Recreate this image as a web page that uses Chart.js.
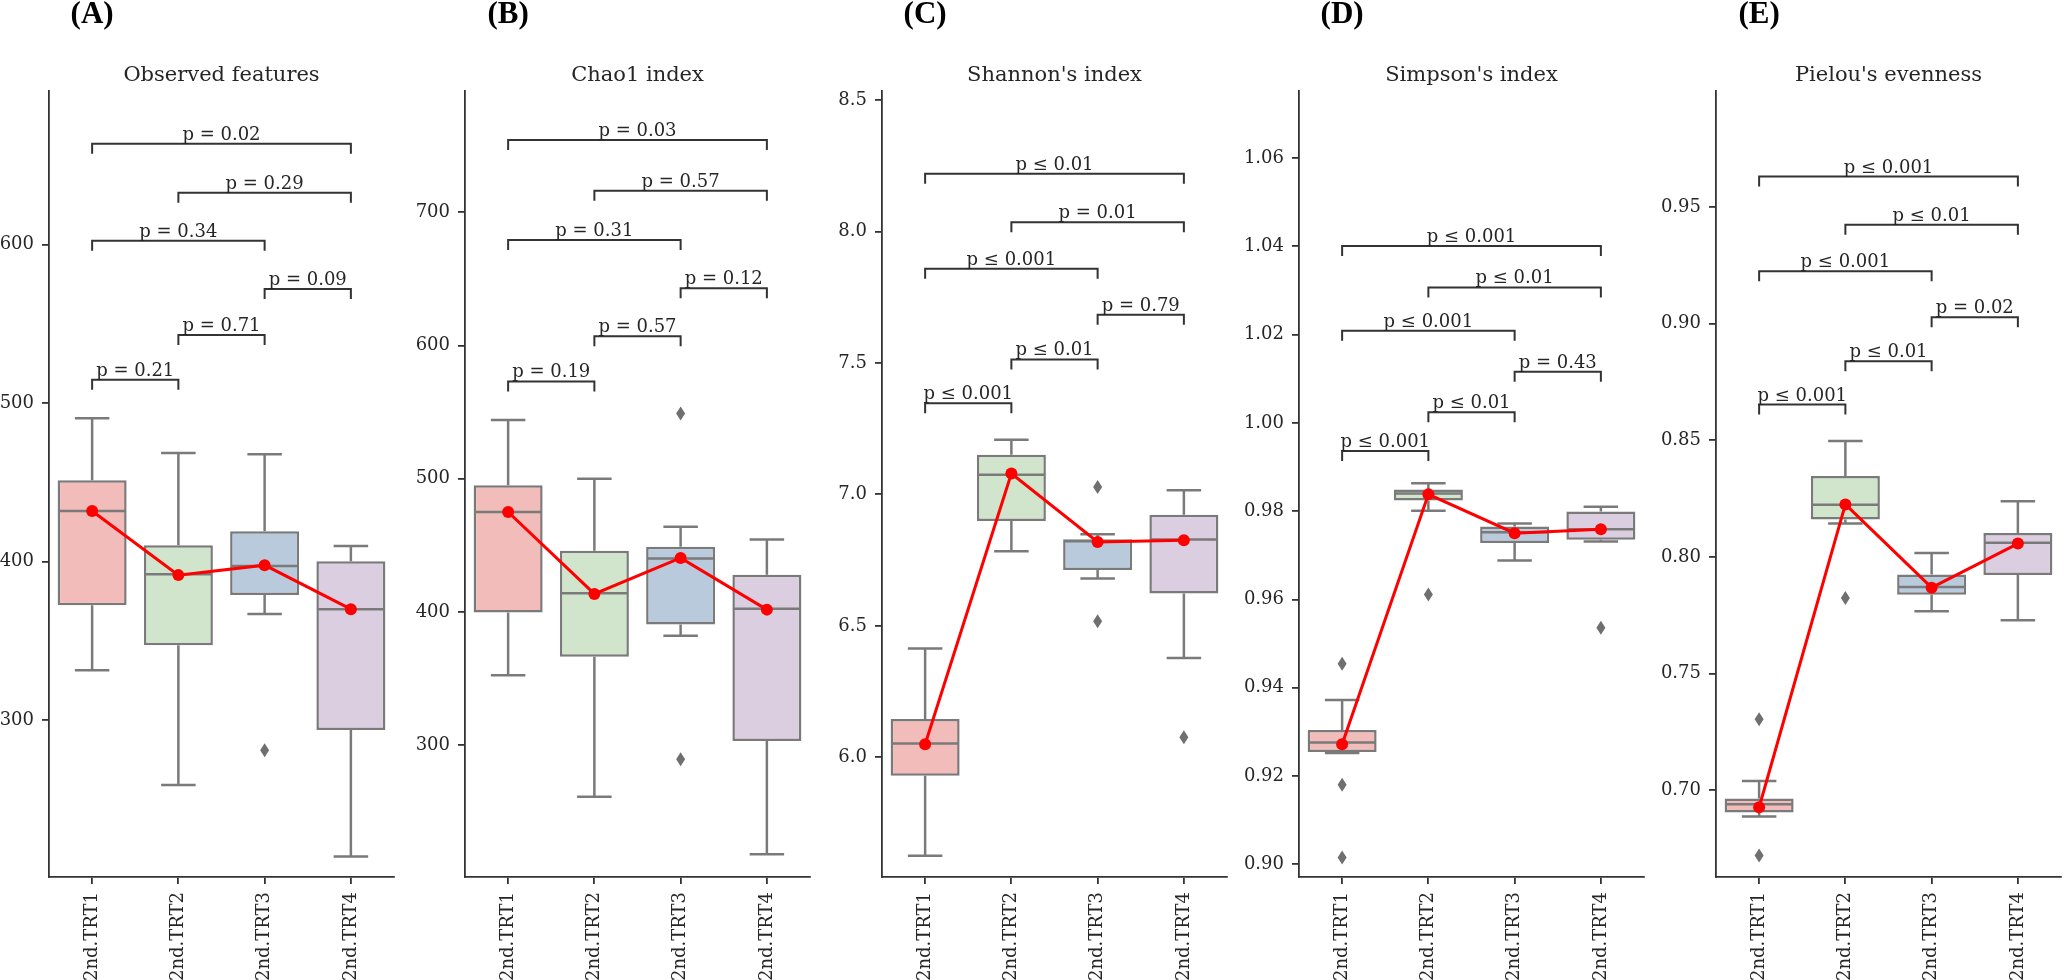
<!DOCTYPE html>
<html>
<head>
<meta charset="utf-8">
<script src="https://cdn.jsdelivr.net/npm/chart.js@4.4.1/dist/chart.umd.min.js"></script>
<style>
  html, body { margin: 0; padding: 0; background: #fff; overflow: hidden; }
  #wrap { position: relative; width: 2066px; height: 980px; }
  .panel { position: absolute; top: 0; width: 421px; height: 980px; }
</style>
</head>
<body>
<div id="wrap"></div>
<script>
const grupos = ['2nd.TRT1', '2nd.TRT2', '2nd.TRT3', '2nd.TRT4'];
// bracket pairs, top to bottom
const pares = [[0, 3], [1, 3], [0, 2], [2, 3], [1, 2], [0, 1]];

// (A) Observed features
const obsLow = [331.5, 259, 366.9, 214];
const obsQ1 = [372.5, 347.3, 378.9, 293.7];
const obsMed = [431.9, 392, 397.2, 370];
const obsQ3 = [451.4, 410.4, 419.2, 400.3];
const obsHigh = [490.5, 468.5, 467.8, 409.8];
const obsMean = [432, 391.5, 397.8, 370];
const obsOut = [[], [], [281], []];
const obsTicks = ['300', '400', '500', '600'];
const obsBracketY = [663.7, 632.8, 602.5, 572, 543, 514.8];
const obsP = ['p = 0.02', 'p = 0.29', 'p = 0.34', 'p = 0.09', 'p = 0.71', 'p = 0.21'];

// (B) Chao1 index
const chaoLow = [352.5, 261.2, 382, 218];
const chaoQ1 = [399.6, 366.3, 390.6, 303];
const chaoMed = [475, 413.9, 440.1, 402.4];
const chaoQ3 = [495, 445.9, 448.9, 427.9];
const chaoHigh = [544, 500, 463.9, 454.4];
const chaoMean = [475, 413.5, 440.5, 401.7];
const chaoOut = [[], [], [549, 289.3], []];
const chaoTicks = ['300', '400', '500', '600', '700'];
const chaoBracketY = [754.3, 716.2, 679.2, 643, 607, 573];
const chaoP = ['p = 0.03', 'p = 0.57', 'p = 0.31', 'p = 0.12', 'p = 0.57', 'p = 0.19'];

// (C) Shannon's index
const shanLow = [5.626, 6.784, 6.68, 6.378];
const shanQ1 = [5.93, 6.899, 6.712, 6.623];
const shanMed = [6.053, 7.075, 6.822, 6.828];
const shanQ3 = [6.146, 7.151, 6.829, 6.923];
const shanHigh = [6.414, 7.208, 6.848, 7.016];
const shanMean = [6.05, 7.079, 6.819, 6.826];
const shanOut = [[], [], [7.028, 6.518], [6.076]];
const shanTicks = ['6.0', '6.5', '7.0', '7.5', '8.0', '8.5'];
const shanBracketY = [8.219, 8.035, 7.858, 7.683, 7.513, 7.347];
const shanP = ['p ≤ 0.01', 'p = 0.01', 'p ≤ 0.001', 'p = 0.79', 'p ≤ 0.01', 'p ≤ 0.001'];

// (D) Simpson's index
const simpLow = [0.9252, 0.9801, 0.9688, 0.9731];
const simpQ1 = [0.9254, 0.9824, 0.9728, 0.9735];
const simpMed = [0.9276, 0.984, 0.9752, 0.9759];
const simpQ3 = [0.9304, 0.9849, 0.9765, 0.9799];
const simpHigh = [0.9372, 0.9863, 0.9772, 0.981];
const simpMean = [0.9272, 0.9838, 0.975, 0.9759];
const simpOut = [[0.9454, 0.918, 0.9015], [0.9611], [], [0.9536]];
const simpTicks = ['0.90', '0.92', '0.94', '0.96', '0.98', '1.00', '1.02', '1.04', '1.06'];
const simpBracketY = [1.0401, 1.0307, 1.0209, 1.0116, 1.0024, 0.9936];
const simpP = ['p ≤ 0.001', 'p ≤ 0.01', 'p ≤ 0.001', 'p = 0.43', 'p ≤ 0.01', 'p ≤ 0.001'];

// (E) Pielou's evenness
const pielLow = [0.6886, 0.8143, 0.7767, 0.7728];
const pielQ1 = [0.6904, 0.816, 0.7838, 0.7922];
const pielMed = [0.6939, 0.8224, 0.7871, 0.8061];
const pielQ3 = [0.6964, 0.8347, 0.7924, 0.8102];
const pielHigh = [0.7039, 0.8497, 0.8017, 0.8239];
const pielMean = [0.6926, 0.8225, 0.7868, 0.8057];
const pielOut = [[0.7304, 0.6719], [0.7824], [], []];
const pielTicks = ['0.70', '0.75', '0.80', '0.85', '0.90', '0.95'];
const pielBracketY = [0.9631, 0.9424, 0.9225, 0.9028, 0.8839, 0.8653];
const pielP = ['p ≤ 0.001', 'p ≤ 0.01', 'p ≤ 0.001', 'p = 0.02', 'p ≤ 0.01', 'p ≤ 0.001'];

const paneles = [
    { letra: '(A)', titulo: 'Observed features', low: obsLow, q1: obsQ1, med: obsMed, q3: obsQ3, high: obsHigh, media: obsMean, out: obsOut, ticks: obsTicks, min: 201, max: 697, llaves: obsBracketY, pvals: obsP },
    { letra: '(B)', titulo: 'Chao1 index', low: chaoLow, q1: chaoQ1, med: chaoMed, q3: chaoQ3, high: chaoHigh, media: chaoMean, out: chaoOut, ticks: chaoTicks, min: 201, max: 791, llaves: chaoBracketY, pvals: chaoP },
    { letra: '(C)', titulo: "Shannon's index", low: shanLow, q1: shanQ1, med: shanMed, q3: shanQ3, high: shanHigh, media: shanMean, out: shanOut, ticks: shanTicks, min: 5.545, max: 8.534, llaves: shanBracketY, pvals: shanP },
    { letra: '(D)', titulo: "Simpson's index", low: simpLow, q1: simpQ1, med: simpMed, q3: simpQ3, high: simpHigh, media: simpMean, out: simpOut, ticks: simpTicks, min: 0.8971, max: 1.0752, llaves: simpBracketY, pvals: simpP },
    { letra: '(E)', titulo: "Pielou's evenness", low: pielLow, q1: pielQ1, med: pielMed, q3: pielQ3, high: pielHigh, media: pielMean, out: pielOut, ticks: pielTicks, min: 0.6627, max: 0.9998, llaves: pielBracketY, pvals: pielP }
];

const colores = ['#f1bcba', '#d0e5cc', '#b8cadc', '#dbcee1'];
const gris = '#7a7a7a';
const oscuro = '#333333';
const izquierdas = [-21, 395, 812, 1229, 1646];

Chart.defaults.font.family = '"DejaVu Serif", serif';
Chart.defaults.color = '#262626';

function pluginCajas(p) {
    return {
        id: 'cajas',
        afterDatasetDraw(chart, args) {
            if (args.index !== 0) return;
            const ctx = chart.ctx, y = chart.scales.y;
            ctx.save();
            ctx.strokeStyle = gris;
            ctx.lineWidth = 2.5;
            chart.getDatasetMeta(0).data.forEach((bar, i) => {
                const cx = bar.x, w = bar.width, cap = w / 4;
                const yHigh = y.getPixelForValue(p.high[i]), yLow = y.getPixelForValue(p.low[i]);
                const yMed = y.getPixelForValue(p.med[i]);
                ctx.beginPath();
                ctx.moveTo(cx, y.getPixelForValue(p.q3[i])); ctx.lineTo(cx, yHigh);
                ctx.moveTo(cx - cap, yHigh); ctx.lineTo(cx + cap, yHigh);
                ctx.moveTo(cx, y.getPixelForValue(p.q1[i])); ctx.lineTo(cx, yLow);
                ctx.moveTo(cx - cap, yLow); ctx.lineTo(cx + cap, yLow);
                ctx.moveTo(cx - w / 2 + 1, yMed); ctx.lineTo(cx + w / 2 - 1, yMed);
                ctx.stroke();
                ctx.fillStyle = '#6f6f6f';
                p.out[i].forEach(v => {
                    const py = y.getPixelForValue(v);
                    ctx.beginPath();
                    ctx.moveTo(cx, py - 7); ctx.lineTo(cx + 4.5, py);
                    ctx.lineTo(cx, py + 7); ctx.lineTo(cx - 4.5, py);
                    ctx.closePath();
                    ctx.fill();
                });
            });
            ctx.restore();
        },
        afterDatasetsDraw(chart) {
            const ctx = chart.ctx, x = chart.scales.x, y = chart.scales.y;
            ctx.save();
            ctx.strokeStyle = oscuro;
            ctx.lineWidth = 2;
            ctx.fillStyle = '#262626';
            ctx.font = '18px "DejaVu Serif"';
            ctx.textAlign = 'center';
            ctx.textBaseline = 'alphabetic';
            pares.forEach(([a, b], k) => {
                const x1 = x.getPixelForValue(a), x2 = x.getPixelForValue(b);
                const yy = y.getPixelForValue(p.llaves[k]);
                ctx.beginPath();
                ctx.moveTo(x1, yy + 10); ctx.lineTo(x1, yy); ctx.lineTo(x2, yy); ctx.lineTo(x2, yy + 10);
                ctx.stroke();
                ctx.fillText(p.pvals[k], (x1 + x2) / 2, yy - 4);
            });
            ctx.restore();
        },
        afterDraw(chart) {
            const ctx = chart.ctx;
            ctx.save();
            ctx.font = 'bold 31px "Liberation Serif"';
            ctx.fillStyle = '#000';
            ctx.textAlign = 'center';
            ctx.textBaseline = 'alphabetic';
            ctx.fillText(p.letra, chart.scales.x.getPixelForValue(0), 23);
            ctx.restore();
        }
    };
}

paneles.forEach((p, k) => {
    const div = document.createElement('div');
    div.className = 'panel';
    div.style.left = izquierdas[k] + 'px';
    const cv = document.createElement('canvas');
    cv.width = 421;
    cv.height = 980;
    div.appendChild(cv);
    document.getElementById('wrap').appendChild(div);

    const fuente = { family: '"DejaVu Serif"', size: 18 };
    const rejilla = { drawOnChartArea: false, drawTicks: true, tickLength: 7, color: oscuro, lineWidth: 1.8, offset: false };
    const borde = { display: true, color: oscuro, width: 1.8 };

    new Chart(cv, {
        data: {
            labels: grupos,
            datasets: [
                {
                    type: 'bar',
                    data: grupos.map((g, i) => [p.q1[i], p.q3[i]]),
                    backgroundColor: colores,
                    borderColor: gris,
                    borderWidth: 2.5,
                    borderSkipped: false,
                    barPercentage: 0.8,
                    categoryPercentage: 1,
                    order: 2
                },
                {
                    type: 'line',
                    data: p.media,
                    borderColor: '#ff0000',
                    borderWidth: 3,
                    pointRadius: 6,
                    pointBackgroundColor: '#ff0000',
                    pointBorderWidth: 0,
                    order: 1
                }
            ]
        },
        options: {
            responsive: false,
            animation: false,
            layout: { padding: { left: 0, right: 3, top: 0, bottom: 0 } },
            plugins: {
                legend: { display: false },
                tooltip: { enabled: false },
                title: {
                    display: true,
                    text: p.titulo,
                    fullSize: false,
                    color: '#262626',
                    font: { family: '"DejaVu Serif"', size: 21, weight: 'normal', lineHeight: 1.2 },
                    padding: { top: 62.8, bottom: 3 }
                }
            },
            scales: {
                x: {
                    type: 'category',
                    offset: true,
                    grid: rejilla,
                    border: borde,
                    ticks: { minRotation: 90, maxRotation: 90, padding: 8, font: fuente, color: '#262626' },
                    afterFit: s => { s.height = 103; }
                },
                y: {
                    type: 'linear',
                    min: p.min,
                    max: p.max,
                    grid: rejilla,
                    border: borde,
                    ticks: { padding: 8, font: fuente, color: '#262626', callback: (v, i) => p.ticks[i] },
                    afterBuildTicks: s => { s.ticks = p.ticks.map(t => ({ value: parseFloat(t) })); },
                    afterFit: s => { s.width = 70; }
                }
            }
        },
        plugins: [pluginCajas(p)]
    });
});
</script>
</body>
</html>
